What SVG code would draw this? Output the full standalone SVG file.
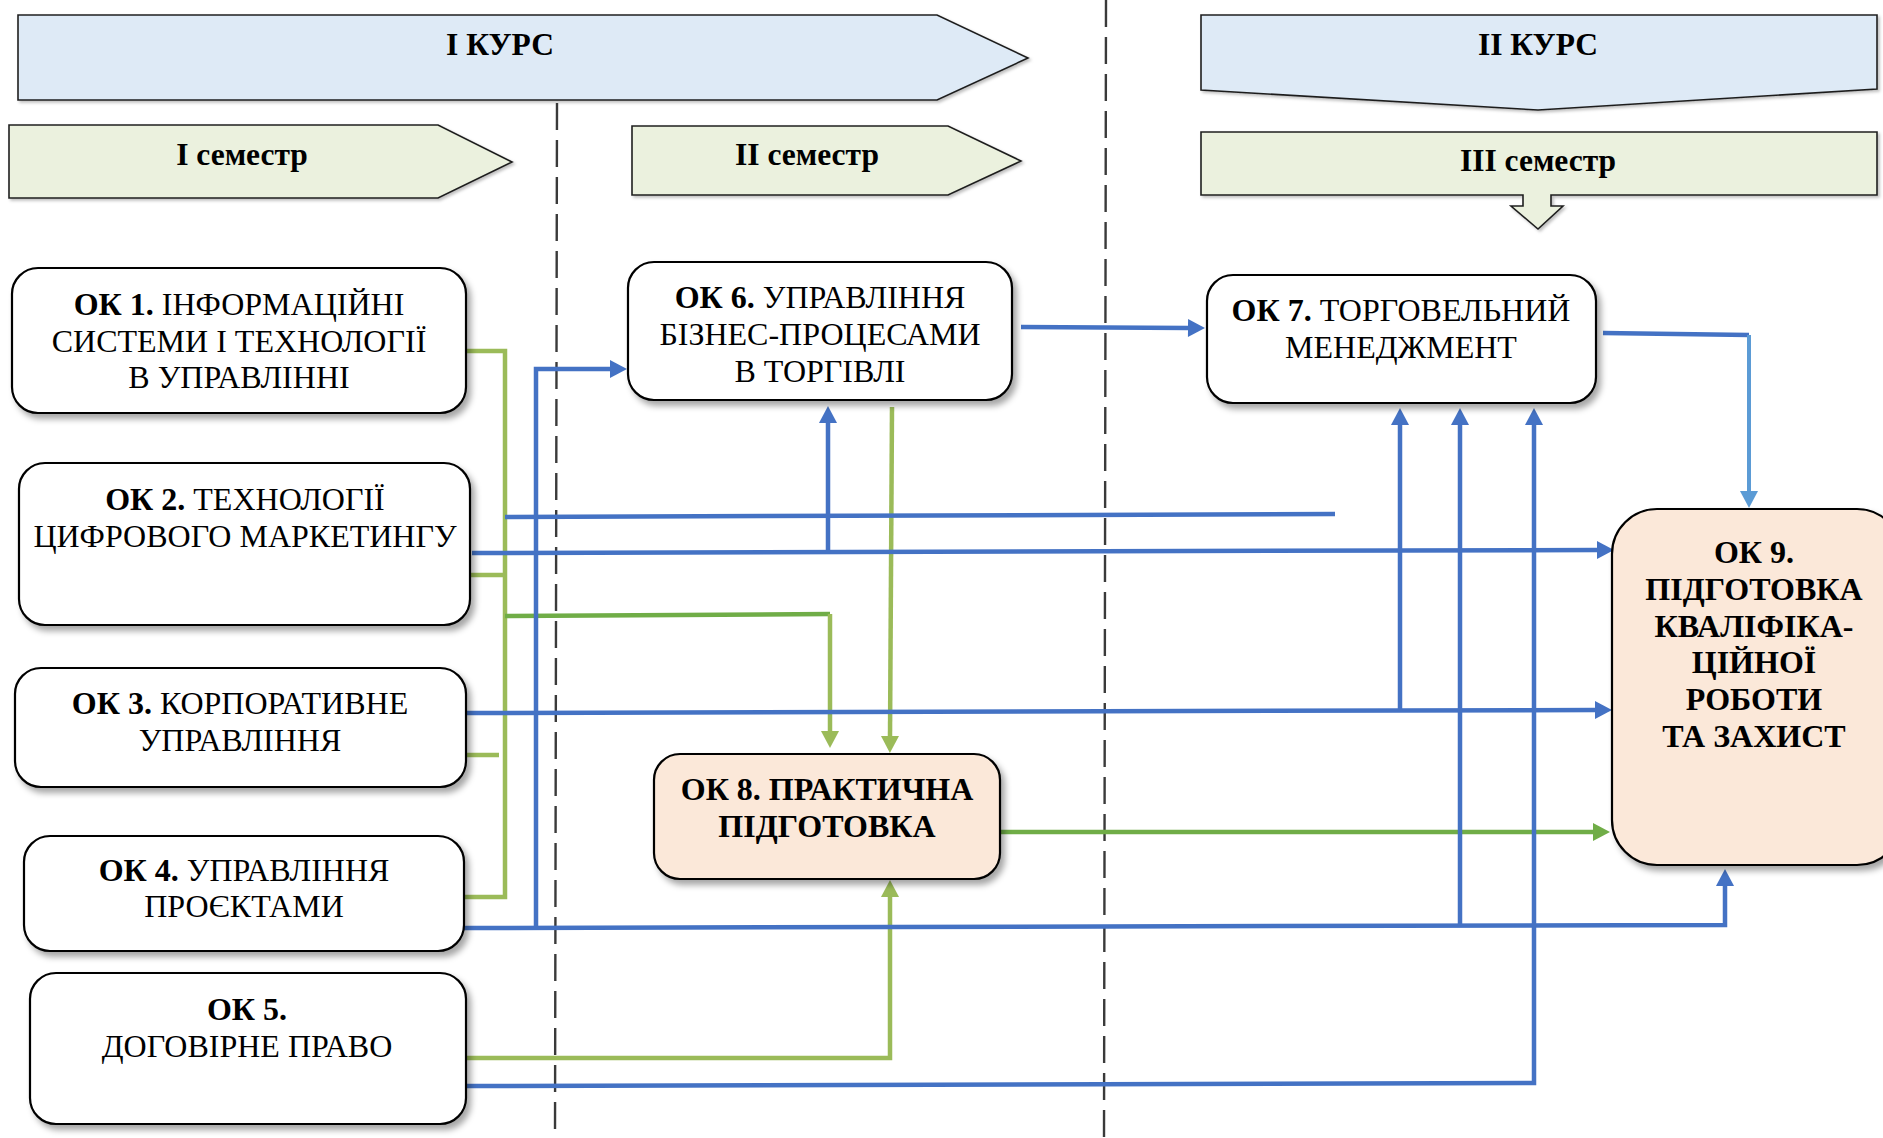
<svg xmlns="http://www.w3.org/2000/svg" width="1883" height="1138" viewBox="0 0 1883 1138">
<style>
  .banner-blue { fill: #DEEAF6; stroke: #1f1f1f; stroke-width: 1.6; }
  .banner-green { fill: #EBF1DE; stroke: #1f1f1f; stroke-width: 1.6; }
  .htitle { font-family: "Liberation Serif", "Times New Roman", serif; font-weight: bold; font-size: 31.5px; fill: #000; text-anchor: middle; }
  .box { fill: #ffffff; stroke: #000; stroke-width: 2.2; }
  .box-peach { fill: #FBE8D9; stroke: #000; stroke-width: 2.2; }
  .t { font-family: "Liberation Serif", "Times New Roman", serif; font-size: 32px; fill: #000; text-anchor: middle; }
  .b { font-weight: bold; }
  .dash { stroke: #3a3a3a; stroke-width: 2.4; stroke-dasharray: 27 10; fill: none; }
  .bl { stroke: #4472C4; stroke-width: 4.5; fill: none; }
  .bl2 { stroke: #5B9BD5; stroke-width: 4; fill: none; }
  .gr { stroke: #9BBB59; stroke-width: 4.5; fill: none; }
  .gr2 { stroke: #70AD47; stroke-width: 4.5; fill: none; }
</style>
<defs>
  <filter id="sh" x="-10%" y="-10%" width="130%" height="130%">
    <feDropShadow dx="4" dy="5" stdDeviation="3" flood-color="#000" flood-opacity="0.35"/>
  </filter>
  <filter id="sh2" x="-5%" y="-10%" width="110%" height="130%">
    <feDropShadow dx="2" dy="2" stdDeviation="1.5" flood-color="#000" flood-opacity="0.25"/>
  </filter>
  <marker id="ab" markerUnits="userSpaceOnUse" markerWidth="18" markerHeight="18" viewBox="0 0 17 18" refX="1" refY="9" orient="auto">
    <path d="M0,0 L17,9 L0,18 Z" fill="#4472C4"/>
  </marker>
  <marker id="ab2" markerUnits="userSpaceOnUse" markerWidth="18" markerHeight="18" viewBox="0 0 17 18" refX="1" refY="9" orient="auto">
    <path d="M0,0 L17,9 L0,18 Z" fill="#5B9BD5"/>
  </marker>
  <marker id="ag" markerUnits="userSpaceOnUse" markerWidth="18" markerHeight="18" viewBox="0 0 17 18" refX="1" refY="9" orient="auto">
    <path d="M0,0 L17,9 L0,18 Z" fill="#9BBB59"/>
  </marker>
  <marker id="ag2" markerUnits="userSpaceOnUse" markerWidth="18" markerHeight="18" viewBox="0 0 17 18" refX="1" refY="9" orient="auto">
    <path d="M0,0 L17,9 L0,18 Z" fill="#70AD47"/>
  </marker>
</defs>

<rect width="1883" height="1138" fill="#ffffff"/>

<g id="headers">
  <g id="kurs1">
    <path class="banner-blue" filter="url(#sh2)" d="M18,15 H937 L1028,58 L937,100 H18 Z"/>
    <text class="htitle" x="500" y="55">I КУРС</text>
  </g>
  <g id="kurs2">
    <path class="banner-blue" filter="url(#sh2)" d="M1201,15 H1877 V89 L1538,110 L1201,90 Z"/>
    <text class="htitle" x="1538" y="55">II КУРС</text>
  </g>
  <g id="sem1">
    <path class="banner-green" filter="url(#sh2)" d="M9,125 H438 L512,162 L438,198 H9 Z"/>
    <text class="htitle" x="242" y="165">I семестр</text>
  </g>
  <g id="sem2">
    <path class="banner-green" filter="url(#sh2)" d="M632,126 H948 L1021,161 L948,195 H632 Z"/>
    <text class="htitle" x="807" y="165">II семестр</text>
  </g>
  <g id="sem3">
    <path class="banner-green" filter="url(#sh2)" d="M1201,132 H1877 V195 H1551 V206 H1563 L1538,229 L1511,206 H1523 V195 H1201 Z"/>
    <text class="htitle" x="1538" y="171">III семестр</text>
  </g>
</g>

<g id="dividers">
  <line class="dash" x1="557" y1="103" x2="555" y2="1138"/>
  <line class="dash" x1="1106" y1="0" x2="1104" y2="1138"/>
</g>

<g id="connectors">
  <path class="gr" d="M466,351 H505 V897 H464"/>
  <path class="gr" d="M470,575 H505"/>
  <path class="gr" d="M466,755 H499"/>
  <path class="gr2" d="M505,616 L830,614"/>
  <path class="gr" d="M830,614 V732" marker-end="url(#ag)"/>
  <path class="gr" d="M892,407 L890,737" marker-end="url(#ag)"/>
  <path class="gr" d="M466,1058 H890 V896" marker-end="url(#ag)"/>
  <path class="gr2" d="M1000,832 H1594" marker-end="url(#ag2)"/>

  <path class="bl" d="M505,517 L1335,514"/>
  <path class="bl" d="M472,553 L1598,550" marker-end="url(#ab)"/>
  <path class="bl" d="M828,552 V422" marker-end="url(#ab)"/>
  <path class="bl" d="M467,713 L1596,710" marker-end="url(#ab)"/>
  <path class="bl" d="M1400,711 V424" marker-end="url(#ab)"/>
  <path class="bl" d="M462,928 L1725,925 V885" marker-end="url(#ab)"/>
  <path class="bl" d="M536,928 V369 H611" marker-end="url(#ab)"/>
  <path class="bl" d="M1460,926 V424" marker-end="url(#ab)"/>
  <path class="bl" d="M466,1086 L1534,1083 V424" marker-end="url(#ab)"/>
  <path class="bl" d="M1021,327 L1189,328" marker-end="url(#ab)"/>
  <path class="bl" d="M1603,333 L1749,335"/>
  <path class="bl2" d="M1749,335 V492" marker-end="url(#ab2)"/>
</g>

<g id="ok1">
  <rect class="box" filter="url(#sh)" x="12" y="268" width="454" height="145" rx="26"/>
  <text class="t" x="239" y="315"><tspan class="b">ОК 1.</tspan> ІНФОРМАЦІЙНІ</text>
  <text class="t" x="239" y="352">СИСТЕМИ І ТЕХНОЛОГІЇ</text>
  <text class="t" x="239" y="388">В УПРАВЛІННІ</text>
</g>
<g id="ok2">
  <rect class="box" filter="url(#sh)" x="19" y="463" width="451" height="162" rx="26"/>
  <text class="t" x="245" y="510"><tspan class="b">ОК 2.</tspan> ТЕХНОЛОГІЇ</text>
  <text class="t" x="245" y="547">ЦИФРОВОГО МАРКЕТИНГУ</text>
</g>
<g id="ok3">
  <rect class="box" filter="url(#sh)" x="15" y="668" width="451" height="119" rx="26"/>
  <text class="t" x="240" y="714"><tspan class="b">ОК 3.</tspan> КОРПОРАТИВНЕ</text>
  <text class="t" x="240" y="751">УПРАВЛІННЯ</text>
</g>
<g id="ok4">
  <rect class="box" filter="url(#sh)" x="24" y="836" width="440" height="115" rx="26"/>
  <text class="t" x="244" y="881"><tspan class="b">ОК 4.</tspan> УПРАВЛІННЯ</text>
  <text class="t" x="244" y="917">ПРОЄКТАМИ</text>
</g>
<g id="ok5">
  <rect class="box" filter="url(#sh)" x="30" y="973" width="436" height="151" rx="26"/>
  <text class="t b" x="247" y="1020">ОК 5.</text>
  <text class="t" x="247" y="1057">ДОГОВІРНЕ ПРАВО</text>
</g>
<g id="ok6">
  <rect class="box" filter="url(#sh)" x="628" y="262" width="384" height="138" rx="26"/>
  <text class="t" x="820" y="308"><tspan class="b">ОК 6.</tspan> УПРАВЛІННЯ</text>
  <text class="t" x="820" y="345">БІЗНЕС-ПРОЦЕСАМИ</text>
  <text class="t" x="820" y="382">В ТОРГІВЛІ</text>
</g>
<g id="ok7">
  <rect class="box" filter="url(#sh)" x="1207" y="275" width="389" height="128" rx="26"/>
  <text class="t" x="1401" y="321"><tspan class="b">ОК 7.</tspan> ТОРГОВЕЛЬНИЙ</text>
  <text class="t" x="1401" y="358">МЕНЕДЖМЕНТ</text>
</g>
<g id="ok8">
  <rect class="box-peach" filter="url(#sh)" x="654" y="754" width="346" height="125" rx="26"/>
  <text class="t b" x="827" y="800">ОК 8. ПРАКТИЧНА</text>
  <text class="t b" x="827" y="837">ПІДГОТОВКА</text>
</g>
<g id="ok9">
  <rect class="box-peach" filter="url(#sh)" x="1612" y="509" width="290" height="356" rx="45"/>
  <text class="t b" x="1754" y="563">ОК 9.</text>
  <text class="t b" x="1754" y="600">ПІДГОТОВКА</text>
  <text class="t b" x="1754" y="637">КВАЛІФІКА-</text>
  <text class="t b" x="1754" y="673">ЦІЙНОЇ</text>
  <text class="t b" x="1754" y="710">РОБОТИ</text>
  <text class="t b" x="1754" y="747">ТА ЗАХИСТ</text>
</g>
</svg>
